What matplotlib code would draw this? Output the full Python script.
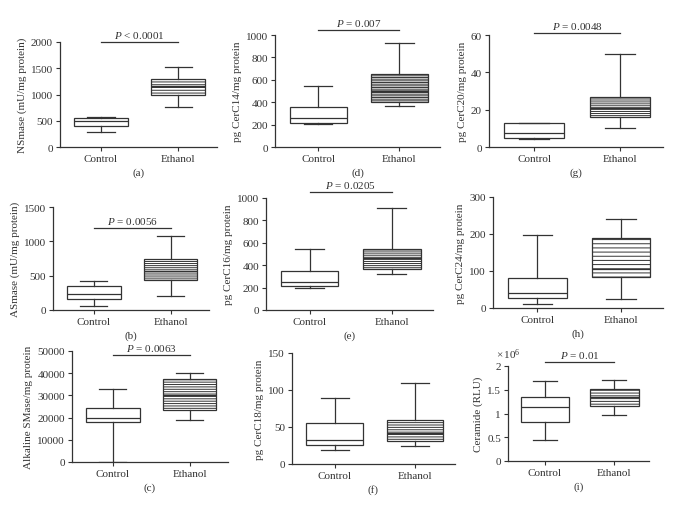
import matplotlib
matplotlib.use('Agg')
import matplotlib.pyplot as plt
from matplotlib.ticker import FuncFormatter

plt.rcParams['font.family'] = ['Liberation Serif', 'DejaVu Serif']
plt.rcParams['mathtext.fontset'] = 'custom'
plt.rcParams['mathtext.rm'] = 'Liberation Serif'
plt.rcParams['mathtext.it'] = 'Liberation Serif:italic'
plt.rcParams['hatch.linewidth'] = 0.7

groups = ['Control', 'Ethanol']

# box summaries: low whisker, Q1, median, Q3, high whisker
nsmase_ctrl = [280, 392, 500, 545, 570]
nsmase_eth = [753, 987, 1170, 1304, 1532]
asmase_ctrl = [63, 165, 228, 350, 427]
asmase_eth = [199, 432, 568, 743, 1073]
alk_ctrl = [0, 17960, 19900, 24250, 32780]
alk_eth = [18700, 23200, 30000, 37280, 39970]
c14_ctrl = [202, 217, 256, 354, 542]
c14_eth = [363, 405, 500, 652, 929]
c16_ctrl = [194, 218, 254, 352, 543]
c16_eth = [325, 370, 460, 549, 913]
c18_ctrl = [19, 26, 33, 55, 89]
c18_eth = [25, 31, 42, 59, 110]
c20_ctrl = [4.1, 4.7, 7.5, 12.7, 12.7]
c20_eth = [10.4, 16.1, 21, 26.9, 49.8]
c24_ctrl = [11, 27, 41, 82, 197]
c24_eth = [25, 84, 106, 190, 240]
cer_ctrl = [0.45e6, 0.82e6, 1.13e6, 1.35e6, 1.68e6]
cer_eth = [0.96e6, 1.15e6, 1.35e6, 1.52e6, 1.71e6]

p_labels = {'a': '$P$ < 0.0001', 'b': '$P$ = 0.0056', 'c': '$P$ = 0.0063',
            'd': '$P$ = 0.007', 'e': '$P$ = 0.0205', 'g': '$P$ = 0.0048',
            'i': '$P$ = 0.01'}
p_heights = {'a': 2000, 'b': 1200, 'c': 48000, 'd': 1045, 'e': 1050,
             'g': 61, 'i': 2.09e6}

# panel, control, ethanol, y label, y max, y step, pixel box (l, t, r, b), hatch
panels = [
    ('a', nsmase_ctrl, nsmase_eth, 'NSmase (mU/mg protein)', 2000, 500, (60, 43, 217, 148), 6),
    ('d', c14_ctrl, c14_eth, 'pg CerC14/mg protein', 1000, 200, (275, 36, 440, 148), 10),
    ('g', c20_ctrl, c20_eth, 'pg CerC20/mg protein', 60, 20, (489, 36, 663, 148), 8),
    ('b', asmase_ctrl, asmase_eth, 'ASmase (mU/mg protein)', 1500, 500, (53, 208, 209, 311), 8),
    ('e', c16_ctrl, c16_eth, 'pg CerC16/mg protein', 1000, 200, (266, 199, 433, 311), 8),
    ('h', c24_ctrl, c24_eth, 'pg CerC24/mg protein', 300, 100, (493, 198, 663, 309), 4),
    ('c', alk_ctrl, alk_eth, 'Alkaline SMase/mg protein', 50000, 10000, (72, 352, 228, 463), 7),
    ('f', c18_ctrl, c18_eth, 'pg CerC18/mg protein', 150, 50, (292, 354, 455, 465), 7),
    ('i', cer_ctrl, cer_eth, 'Ceramide (RLU)', 2e6, 0.5e6, (508, 367, 649, 462), 6),
]

W, H = 683, 506
fig = plt.figure(figsize=(W / 100, H / 100), dpi=100)
ink = '#333333'

for key, ctrl, eth, ylabel, ymax, ystep, (l, t, r, b), nh in panels:
    ax = fig.add_axes([l / W, 1 - b / H, (r - l) / W, (b - t) / H])
    stats = []
    for name, s in zip(groups, [ctrl, eth]):
        stats.append({'label': name, 'whislo': s[0], 'q1': s[1], 'med': s[2],
                      'q3': s[3], 'whishi': s[4], 'fliers': []})
    bp = ax.bxp(stats, positions=[1, 2], widths=0.7, showfliers=False,
                patch_artist=True,
                boxprops=dict(edgecolor=ink, linewidth=0.9),
                medianprops=dict(color=ink, linewidth=0.9),
                whiskerprops=dict(color=ink, linewidth=0.9),
                capprops=dict(color=ink, linewidth=0.9))
    bp['boxes'][0].set_facecolor('white')
    bp['boxes'][1].set_facecolor('white')
    bp['boxes'][1].set_hatch('-' * nh)

    ax.set_xlim(0.47, 2.5)
    ax.set_ylim(0, ymax)
    ticks = [i * ystep for i in range(int(round(ymax / ystep)) + 1)]
    ax.set_yticks(ticks)
    if key == 'i':
        ax.yaxis.set_major_formatter(FuncFormatter(lambda v, p: f'{v / 1e6:g}'))
        ax.text(0, 1.05, r'$\times\,10^6$', transform=ax.transAxes,
                ha='center', va='bottom', fontsize=8, color=ink)
    else:
        ax.yaxis.set_major_formatter(FuncFormatter(lambda v, p: f'{v:g}'))
    ax.set_xticks([1, 2])
    ax.set_xticklabels(groups)
    ax.set_ylabel(ylabel, fontsize=8, color=ink, labelpad=3)
    ax.tick_params(direction='out', length=3, width=0.8, labelsize=8,
                   colors=ink, pad=2)
    for side in ['top', 'right']:
        ax.spines[side].set_visible(False)
    for side in ['left', 'bottom']:
        ax.spines[side].set_color(ink)
        ax.spines[side].set_linewidth(0.9)

    if key in p_labels:
        yp = p_heights[key]
        ax.plot([1, 2], [yp, yp], color=ink, linewidth=0.9, clip_on=False)
        ax.annotate(p_labels[key], xy=(1.5, yp), xytext=(0, 1.5),
                    textcoords='offset points', ha='center', va='bottom',
                    fontsize=8, color=ink, annotation_clip=False)

    ax.annotate(f'({key})', xy=(0.5, 0), xycoords='axes fraction',
                xytext=(0, -18), textcoords='offset points',
                ha='center', va='center', fontsize=8, color=ink)

fig.savefig('out.png', dpi=100)
